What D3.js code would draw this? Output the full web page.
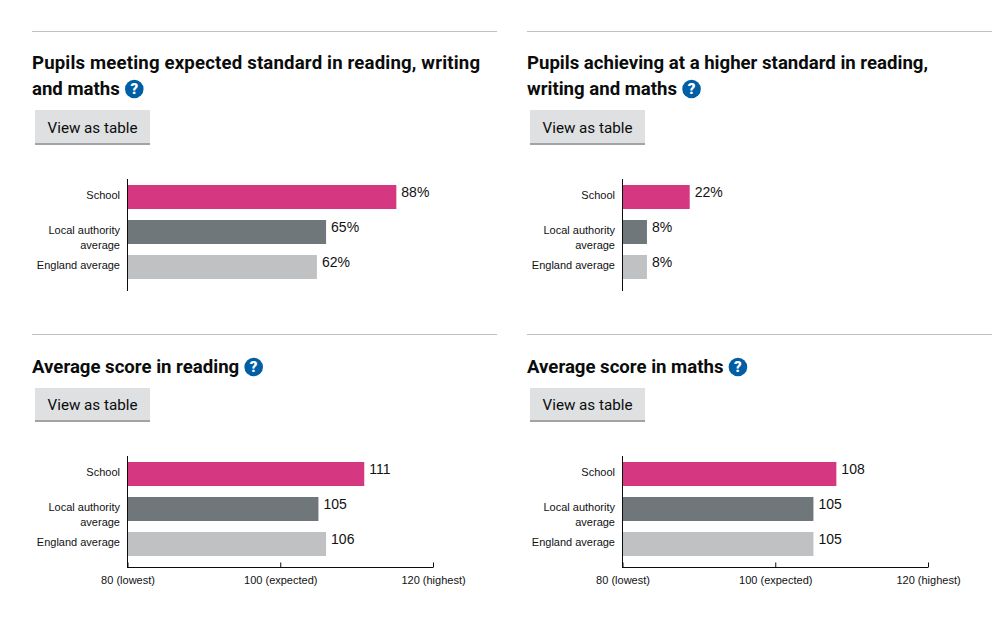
<!DOCTYPE html>
<html><head><meta charset="utf-8">
<script src="https://cdn.jsdelivr.net/npm/d3@7"></script>
<style>
html,body{margin:0;padding:0;background:#fff;overflow:hidden}
svg{display:block}
.title{font-family:Roboto,sans-serif;font-weight:700;font-size:18.6px;fill:#0b0c0c}
.btn{font-family:Roboto,sans-serif;font-size:15.2px;fill:#0b0c0c}
.cat{font-family:"Liberation Sans",Arial,sans-serif;font-size:11px;fill:#111}
.val{font-family:"Liberation Sans",Arial,sans-serif;font-size:14px;fill:#111}
.tick text{font-family:"Liberation Sans",Arial,sans-serif;font-size:11px;fill:#111}
</style></head><body>
<svg id="c" width="1002" height="630"></svg>
<script>
const categories = ["School", "Local authority average", "England average"];
const categoryLines = [["School"], ["Local authority", "average"], ["England average"]];
const barColors = ["#d53880", "#6f777b", "#bfc1c3"];

const expectedValues = [88, 65, 62];
const higherValues = [22, 8, 8];
const readingValues = [111, 105, 106];
const mathsValues = [108, 105, 105];

const scoreTicks = [80, 100, 120];
const scoreTickLabels = ["80 (lowest)", "100 (expected)", "120 (highest)"];

const panels = [
  {x:32,  top:31,  title:["Pupils meeting expected standard in reading, writing","and maths"], fit:448, values:expectedValues, suffix:"%", domain:[0,100], axis:false},
  {x:527, top:31,  title:["Pupils achieving at a higher standard in reading,","writing and maths"], values:higherValues, suffix:"%", domain:[0,100], axis:false},
  {x:32,  top:334, title:["Average score in reading"], values:readingValues, suffix:"", domain:[80,120], axis:true},
  {x:527, top:334, title:["Average score in maths"], values:mathsValues, suffix:"", domain:[80,120], axis:true}
];

const svg = d3.select("#c");

panels.forEach(p => {
  const g = svg.append("g").attr("transform", `translate(${p.x},0)`);
  g.append("line").attr("x1",0).attr("x2",465).attr("y1",p.top+0.5).attr("y2",p.top+0.5).attr("stroke","#bfc1c3");

  // title + help icon
  const lineH = 26;
  const firstY = p.top + (p.axis ? 38.5 : 37.5);
  const tt = g.append("text").attr("class","title");
  p.title.forEach((t,i) => {
    const s = tt.append("tspan").attr("x",0).attr("y",firstY+i*lineH).text(t);
    if (i===0 && p.fit) s.attr("textLength",p.fit).attr("lengthAdjust","spacing");
  });
  const lastW = tt.selectAll("tspan").nodes().at(-1).getComputedTextLength();
  const iconY = firstY + (p.title.length-1)*lineH - 6;
  const icon = g.append("g").attr("transform",`translate(${lastW+14.5},${iconY+0.5})`);
  icon.append("circle").attr("r",9.3).attr("fill","#005ea5");
  icon.append("text").attr("text-anchor","middle").attr("y",5.2)
    .attr("font-family","Roboto,sans-serif").attr("font-weight",900).attr("font-size",15).attr("fill","#fff").text("?");

  // button
  const by = p.title.length===2 ? p.top+79 : p.top+54;
  const bh = p.axis ? 34 : 35;
  g.append("rect").attr("x",3).attr("y",by).attr("width",115).attr("height",bh).attr("fill","#dee0e2");
  g.append("rect").attr("x",3).attr("y",by+bh-2).attr("width",115).attr("height",2).attr("fill","#a1a3a5");
  g.append("text").attr("class","btn").attr("x",60.5).attr("y",by+(p.axis?21.5:22.5)).attr("text-anchor","middle").text("View as table");

  // chart
  const chartTop = p.axis ? 456 : 179;
  const x = d3.scaleLinear().domain(p.domain).range([95.5, 401]);
  const y = d3.scaleBand().domain(categories).range([chartTop, chartTop+106]).paddingInner(11/35).paddingOuter(6/35);
  const c = g.append("g");

  c.selectAll(".bar").data(p.values).join("rect").attr("class","bar")
    .attr("x",x(p.domain[0])).attr("y",(d,i)=>y(categories[i]))
    .attr("width",d=>x(d)-x(p.domain[0])).attr("height",y.bandwidth())
    .attr("fill",(d,i)=>barColors[i]);

  c.selectAll(".val").data(p.values).join("text").attr("class","val")
    .attr("x",d=>x(d)+5).attr("y",(d,i)=>y(categories[i])+12)
    .text(d=>d+p.suffix);

  categoryLines.forEach((ls,i) => {
    const cy = y(categories[i]) + y.bandwidth()/2;
    const t = c.append("text").attr("class","cat").attr("text-anchor","end");
    ls.forEach((l,j) => t.append("tspan").attr("x",88).attr("y",cy + 2 + j*15).text(l));
  });

  c.append("line").attr("x1",x(p.domain[0])).attr("x2",x(p.domain[0])).attr("y1",chartTop).attr("y2",chartTop+112).attr("stroke","#0b0c0c");

  if (p.axis) {
    const ax = d3.axisBottom(x).tickValues(scoreTicks).tickSize(-5).tickPadding(14)
      .tickFormat((d,i)=>scoreTickLabels[i]);
    const a = c.append("g").attr("transform",`translate(0,${chartTop+111.5})`).call(ax);
    a.selectAll("path").attr("stroke","#0b0c0c").attr("d",`M${x(80)},0H${x(120)}`);
    a.selectAll("line").attr("stroke","#0b0c0c");
    a.selectAll("text").attr("dy","0").attr("y",16);
  }
});
</script>
</body></html>
